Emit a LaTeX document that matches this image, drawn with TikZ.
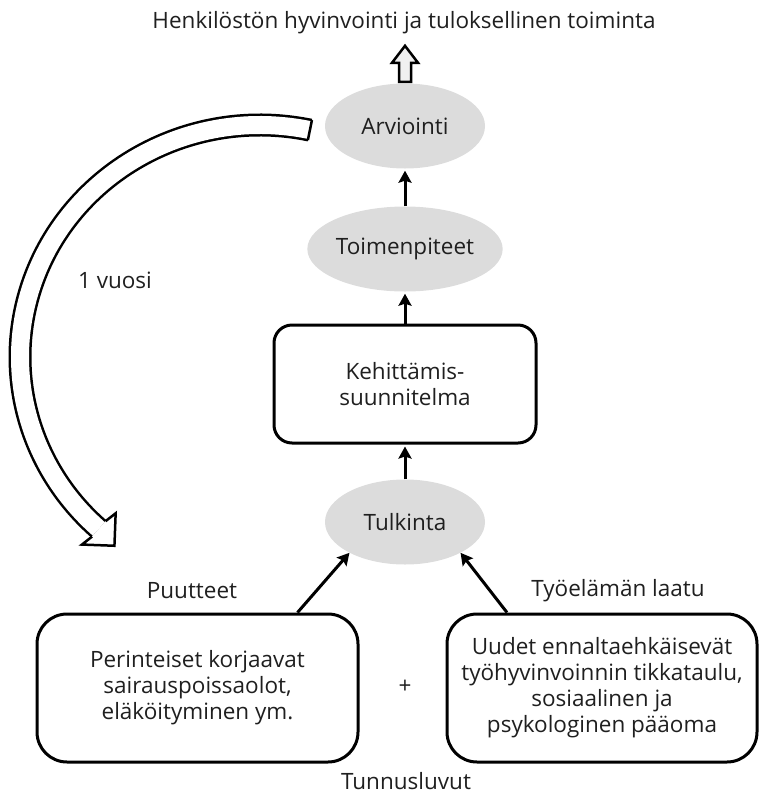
\documentclass[tikz,border=0pt]{standalone}
\usepackage{fontspec}
\setmainfont{Open Sans}
\usetikzlibrary{arrows.meta,calc,shapes.geometric}
\definecolor{ellgray}{HTML}{DCDCDC}
\definecolor{hollowgray}{HTML}{F0F0F0}
\begin{document}
\begin{tikzpicture}[x=1pt,y=-1pt,
  every node/.style={font=\fontsize{22.5}{26}\selectfont, text=black!88},
  ell/.style={ellipse, fill=ellgray, minimum width=160pt, minimum height=85pt, inner sep=0pt},
  rbox/.style={draw, line width=3pt, rounded corners=#1, align=center, inner sep=0pt},
  arr/.style={line width=3pt, -{Stealth[length=12pt,width=13pt,inset=2pt]}},
  band/.style={draw=black, double=white, line width=2.5pt, double distance=18pt},
  bandedge/.style={line width=2.5pt, line join=miter},
]
\useasboundingbox (0,0) rectangle (761,796);

% nodes
\node (title) at (404,23) {Henkilöstön hyvinvointi ja tuloksellinen toiminta};
\node[ell] (arv) at (405,126) {Arviointi};
\node[ell] (toim) at (405,249) {Toimenpiteet};
\node[rbox=18pt, minimum width=262pt, minimum height=118pt] (keh) at (405,384) {Kehittämis-\\suunnitelma};
\node[ell] (tulk) at (405,522) {Tulkinta};
\node[rbox=30pt, minimum width=321pt, minimum height=148pt] (lb) at (197.5,688) {Perinteiset korjaavat\\sairauspoissaolot,\\eläköityminen ym.};
\node[rbox=30pt, minimum width=310pt, minimum height=148pt] (rb) at (602,688) {Uudet ennaltaehkäisevät\\työhyvinvoinnin tikkataulu,\\sosiaalinen ja\\psykologinen pääoma};

\node (vuosi) at (115,280) {1 vuosi};
\node (puut) at (192,591) {Puutteet};
\node (tyo) at (618,591) {Työelämän laatu};
\node (plus) at (405,687) {+};
\node[anchor=base, inner sep=0pt] (tunn) at (406,789) {Tunnusluvut};

% straight arrows
\draw[arr, shorten >=2pt] (toim.north) -- (arv.south);
\draw[arr, shorten >=2pt] (keh.north) -- (toim.south);
\draw[arr, shorten >=2pt] (tulk.north) -- (keh.south);
\draw[arr] ([xshift=100pt]lb.north) -- (tulk.209);
\draw[arr] ([xshift=-95pt]rb.north) -- (tulk.331);

% hollow arrow to the title
\draw[line width=2.5pt, fill=hollowgray, line join=miter]
  ($(arv.north)+(-6,-1.5)$) -- ($(arv.north)+(-6,-20.5)$) -- ($(arv.north)+(-13,-20.5)$)
  -- ($(arv.north)+(0,-37.5)$) -- ($(arv.north)+(13,-20.5)$) -- ($(arv.north)+(6,-20.5)$)
  -- ($(arv.north)+(6,-1.5)$) -- cycle;

% one-year loop arrow
\coordinate (loopstart) at (309.9,130.1);
\coordinate (loopend) at (98.8,528.9);
\draw[band] (loopstart) arc[start angle=-78, end angle=-227.8, x radius=240, y radius=232];
\draw[bandedge] (311.95,120.1) -- (307.85,140.1);
\filldraw[bandedge, fill=white] (105.55,521.2) -- (115.66,513.26) -- (114.44,545.76) -- (81.94,544.54) -- (92.05,536.6);
\end{tikzpicture}
\end{document}
